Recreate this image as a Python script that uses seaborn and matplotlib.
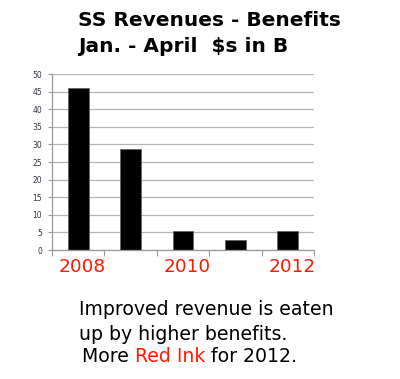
import matplotlib
matplotlib.use("Agg")
import matplotlib.pyplot as plt
import matplotlib.transforms as mtransforms
import seaborn as sns
import pandas as pd
import numpy as np

years = ["2008", "2009", "2010", "2011", "2012"]
values = [46.1, 28.6, 5.5, 2.85, 5.5]
shown_labels = ["2008", "", "2010", "", "2012"]
title_lines = ["SS Revenues - Benefits", "Jan. - April  $s in B"]
note_lines = ["Improved revenue is eaten", "up by higher benefits."]
note_last = ["More ", "Red Ink", " for 2012."]

RED = "#ff1a00"

sns.set_theme(style="white")
plt.rcParams["font.family"] = ["DejaVu Sans"]

df = pd.DataFrame({"year": years, "value": values})

W, H = 400, 379
fig = plt.figure(figsize=(W / 100, H / 100), dpi=100)
ax = fig.add_axes([52 / W, 1 - 250 / H, 262 / W, 176 / H])
sns.barplot(data=df, x="year", y="value", color="black", width=0.4,
            edgecolor="#666666", linewidth=0.6, saturation=1, ax=ax)

ax.set_ylim(0, 50)
ax.set_xlim(-0.5, len(years) - 0.5)
ax.set_yticks(np.arange(0, 51, 5))
ax.yaxis.grid(True, color="#b4b4b4", linewidth=0.9)
ax.set_axisbelow(True)
ax.tick_params(axis="y", length=3, width=0.8, color="#999999", labelsize=5.5,
               labelcolor="#333340", pad=4, direction="out", left=True)
ax.set_xticks(range(len(years)))
ax.set_xticklabels(shown_labels)
ax.tick_params(axis="x", length=0, labelsize=13.3, labelcolor=RED, pad=6)
ax.set_xticks(np.arange(-0.5, len(years), 1.0), minor=True)
ax.tick_params(axis="x", which="minor", length=4, color="#999999", width=0.8,
               direction="out", bottom=True)
shift = mtransforms.ScaledTranslation(4 / 100, 0, fig.dpi_scale_trans)
for lab in ax.get_xticklabels():
    lab.set_transform(lab.get_transform() + shift)
ax.set_xlabel("")
ax.set_ylabel("")
for side in ["top", "right"]:
    ax.spines[side].set_visible(False)
for side in ["left", "bottom"]:
    ax.spines[side].set_color("#999999")
    ax.spines[side].set_linewidth(0.9)

fig.canvas.draw()
r = fig.canvas.get_renderer()


def fitted_size(text, target_px, **kw):
    t = fig.text(0, 0, text, fontsize=10, **kw)
    w = t.get_window_extent(r).width
    t.remove()
    return 10 * target_px / w


tsize = fitted_size(title_lines[0], 263, fontweight="bold")
fig.text(78 / W, 1 - 25.7 / H, title_lines[0], fontsize=tsize, fontweight="bold",
         color="black", va="baseline")
fig.text(78 / W, 1 - 51.7 / H, title_lines[1], fontsize=tsize, fontweight="bold",
         color="black", va="baseline")

nsize = fitted_size(note_lines[0], 253)
fig.text(79 / W, 1 - 315 / H, note_lines[0], fontsize=nsize, color="black", va="baseline")
fig.text(79 / W, 1 - 340 / H, note_lines[1], fontsize=nsize, color="black", va="baseline")
x = 82 / W
for part, col in zip(note_last, ["black", RED, "black"]):
    t = fig.text(x, 1 - 362 / H, part, fontsize=nsize, color=col, va="baseline")
    x = t.get_window_extent(r).x1 / fig.bbox.width

fig.savefig("out.png", dpi=100)
